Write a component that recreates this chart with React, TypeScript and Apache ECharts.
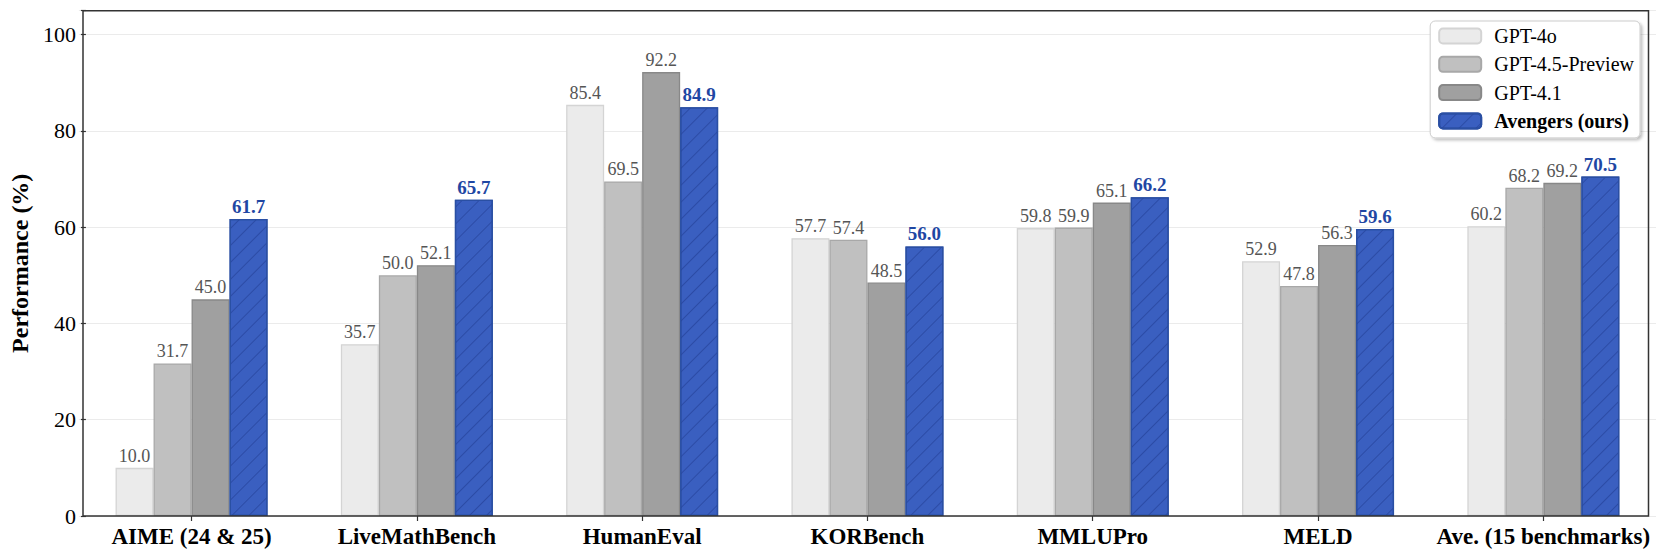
import React, { useEffect, useRef } from "react";
import * as echarts from "echarts";

const categories = [
  "AIME (24 & 25)",
  "LiveMathBench",
  "HumanEval",
  "KORBench",
  "MMLUPro",
  "MELD",
  "Ave. (15 benchmarks)",
];
const seriesNames = ["GPT-4o", "GPT-4.5-Preview", "GPT-4.1", "Avengers (ours)"];
const gpt4o = [10.0, 35.7, 85.4, 57.7, 59.8, 52.9, 60.2];
const gpt45 = [31.7, 50.0, 69.5, 57.4, 59.9, 47.8, 68.2];
const gpt41 = [45.0, 52.1, 92.2, 48.5, 65.1, 56.3, 69.2];
const avengers = [61.7, 65.7, 84.9, 56.0, 66.2, 59.6, 70.5];
const yTicks = [0, 20, 40, 60, 80, 100];

const FONT = "'Liberation Serif', 'DejaVu Serif', serif";

export default function App() {
  const ref = useRef<HTMLDivElement>(null);
  useEffect(() => {
    if (!ref.current) return;
    const chart = echarts.init(ref.current, null, { renderer: "svg" });
    const fills = ["#ebebeb", "#c0c0c0", "#a0a0a0", "#3a5fc0"];
    const borders = ["#d4d4d4", "#a8a8a8", "#888888", "#2a4fa3"];
    const datas = [gpt4o, gpt45, gpt41, avengers];
    const series = datas.map((d, i) => {
      const isOurs = i === 3;
      return {
        name: seriesNames[i],
        type: "bar",
        data: d,
        barWidth: 38,
        barGap: "0%",
        itemStyle: {
          color: fills[i],
          borderColor: borders[i],
          borderWidth: 1.3,
          decal: isOurs
            ? {
                symbol: "rect",
                symbolSize: 1,
                dashArrayX: [1, 0],
                dashArrayY: [1, 11],
                rotation: -Math.PI / 4,
                color: "rgba(30,55,140,0.5)",
              }
            : undefined,
        },
        label: {
          show: true,
          position: "top",
          distance: 3,
          formatter: (p: any) => Number(p.value).toFixed(1),
          fontFamily: FONT,
          fontSize: isOurs ? 19 : 18,
          fontWeight: isOurs ? "bold" : "normal",
          color: isOurs ? "#1f47a3" : "#555555",
        },
      };
    });
    chart.setOption({
      animation: false,
      backgroundColor: "#ffffff",
      grid: { left: 76, right: 5, top: 10.5, bottom: 42, containLabel: false },
      legend: {
        orient: "vertical",
        right: 21,
        top: 21,
        itemWidth: 42,
        itemHeight: 15,
        itemGap: 8.3,
        padding: [5, 6, 7, 8],
        backgroundColor: "#ffffff",
        borderColor: "#cccccc",
        borderWidth: 1,
        borderRadius: 5,
        shadowBlur: 3,
        shadowColor: "rgba(0,0,0,0.25)",
        shadowOffsetX: 2,
        shadowOffsetY: 2,
        textStyle: {
          fontFamily: FONT,
          fontSize: 20,
          color: "#000",
          lineHeight: 20,
          padding: [0, 0, 0, 8],
        },
        data: [
          { name: seriesNames[0] },
          { name: seriesNames[1] },
          { name: seriesNames[2] },
          { name: seriesNames[3], textStyle: { fontWeight: "bold" } },
        ],
      },
      xAxis: {
        type: "category",
        data: categories,
        axisLine: { show: false },
        axisTick: {
          show: true,
          alignWithLabel: true,
          length: 5,
          lineStyle: { color: "#333", width: 1.2 },
        },
        axisLabel: {
          fontFamily: FONT,
          fontSize: 23,
          fontWeight: "bold",
          color: "#000",
          margin: 9,
          interval: 0,
        },
        splitLine: { show: false },
      },
      yAxis: {
        type: "value",
        min: 0,
        max: 105,
        interval: 20,
        offset: -7,
        name: "Performance (%)",
        nameLocation: "middle",
        nameGap: 50,
        nameTextStyle: { fontFamily: FONT, fontSize: 24, fontWeight: "bold", color: "#000" },
        axisLine: { show: false },
        axisTick: { show: true, length: 5, lineStyle: { color: "#333", width: 1.2 } },
        axisLabel: {
          fontFamily: FONT,
          fontSize: 22,
          color: "#000",
          margin: 10,
          formatter: (v: number) => (yTicks.indexOf(v) >= 0 ? String(v) : ""),
        },
        splitLine: { show: true, lineStyle: { color: "#ebebeb", width: 1 } },
      },
      graphic: [
        {
          type: "rect",
          shape: { x: 83, y: 10.7, width: 1565.5, height: 505.3 },
          style: { fill: "none", stroke: "#333333", lineWidth: 1.5 },
          z: 100,
          silent: true,
        },
      ],
      series,
    });
    return () => chart.dispose();
  }, []);
  return (
    <div
      ref={ref}
      style={{ position: "fixed", left: 0, top: 0, width: 1661, height: 558 }}
    />
  );
}
